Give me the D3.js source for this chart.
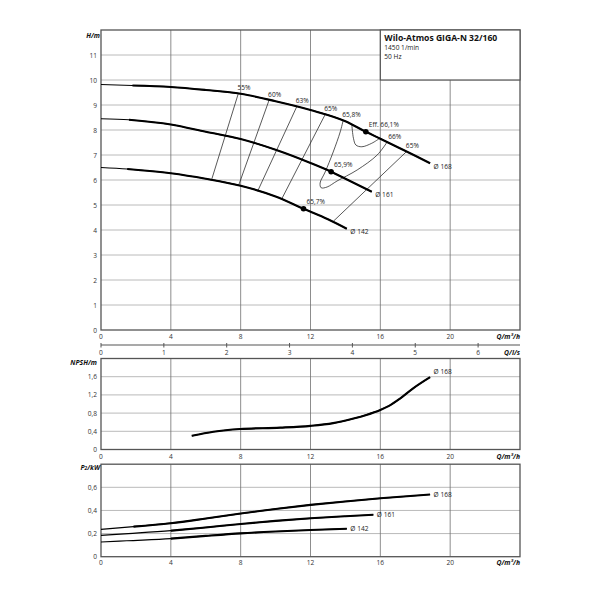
<!DOCTYPE html>
<html>
<head>
<meta charset="utf-8">
<script src="https://cdn.jsdelivr.net/npm/d3@7"></script>
<style>
body { margin: 0; background: #fff; }
text { font-family: "Open Sans", sans-serif; }
.tick-label { font-size: 6.6px; fill: #333; }
.axis-title { font-size: 6.8px; font-weight: bold; font-style: italic; fill: #111; }
.note { font-size: 6.6px; fill: #222; }
</style>
</head>
<body>
<script>
// tick values
var qTicks = [0, 4, 8, 12, 16, 20];
var lsTicks = [0, 1, 2, 3, 4, 5, 6];
var hTicks = [0, 1, 2, 3, 4, 5, 6, 7, 8, 9, 10, 11];
var npshTicks = [0, 0.4, 0.8, 1.2, 1.6];
var p2Ticks = [0, 0.2, 0.4, 0.6];

// impeller diameters
var diameters = ["Ø 168", "Ø 161", "Ø 142"];
var solidFrom = [1.8, 1.6, 1.5];

// H(Q) curves, Q in m3/h, H in m
var h168 = [[0, 9.82], [1.8, 9.78], [4, 9.72], [6, 9.6], [8, 9.45], [10, 9.15], [12, 8.8], [14, 8.35], [15.17, 7.93], [16, 7.65], [17, 7.31], [18, 6.97], [18.85, 6.67]];
var h161 = [[0, 8.45], [1.6, 8.41], [4, 8.22], [6, 7.93], [8, 7.64], [10, 7.21], [12, 6.68], [13.18, 6.33], [14, 6.05], [15.51, 5.53]];
var h142 = [[0, 6.5], [1.5, 6.44], [4, 6.27], [6, 6.05], [8, 5.77], [10, 5.34], [11.6, 4.85], [13, 4.43], [14.08, 4.05]];

// best efficiency points
var bep = [[15.17, 7.93], [13.18, 6.33], [11.6, 4.85]];
var bepLabels = ["Eff. 66,1%", "65,9%", "65,7%"];

// iso-efficiency lines
var eff55 = [[6.34, 6.02], [7.87, 9.47]];
var eff60 = [[7.87, 5.76], [9.63, 9.2]];
var eff63 = [[8.97, 5.55], [11.21, 8.93]];
var eff65a = [[10.35, 5.24], [12.84, 8.62]];
var eff658 = [[16.39, 7.52], [15.82, 7.0], [14.67, 6.4], [13.52, 5.96], [12.95, 5.72], [12.61, 5.69], [12.55, 5.88], [12.84, 6.32], [13.3, 7.12], [13.7, 7.92], [13.87, 8.38]];
var eff66 = [[15.95, 7.66], [15.51, 7.47], [14.94, 7.33], [14.6, 7.4], [14.46, 7.67], [14.37, 8.2]];
var eff65b = [[13.31, 4.35], [17.52, 7.15]];
var effLines = [eff55, eff60, eff63, eff65a, eff658, eff66, eff65b];
var effLabels = ["55%", "60%", "63%", "65%", "65,8%", "", "65%"];
var effRightLabel = ["", "", "", "", "66%", "", ""];

// NPSH for 168
var npsh168 = [[5.2, 0.3], [6.44, 0.39], [7.97, 0.45], [10.26, 0.48], [12, 0.52], [13.3, 0.58], [14.46, 0.68], [15.2, 0.76], [16, 0.87], [16.5, 0.96], [17.13, 1.12], [17.9, 1.35], [18.85, 1.59]];

// P2 curves
var p168 = [[0, 0.237], [1.86, 0.26], [4, 0.29], [6, 0.33], [8, 0.373], [10, 0.413], [12, 0.448], [14, 0.478], [16, 0.505], [18.85, 0.538]];
var p161 = [[0, 0.185], [1.57, 0.2], [4, 0.225], [6, 0.253], [8, 0.283], [10, 0.31], [12, 0.332], [14, 0.35], [15.6, 0.363]];
var p142 = [[0, 0.127], [1.47, 0.138], [4, 0.156], [6, 0.18], [8, 0.202], [10, 0.218], [12, 0.231], [14.08, 0.242]];

var svg = d3.select("body").append("svg")
	.attr("width", 600)
	.attr("height", 600);

var x = d3.scaleLinear().domain([0, 24]).range([101, 520]);
var xls = d3.scaleLinear().domain([0, 24 / 3.6]).range([101, 520]);
var yH = d3.scaleLinear().domain([0, 12]).range([330, 30]);
var yN = d3.scaleLinear().domain([0, 2]).range([449.5, 358.5]);
var yP = d3.scaleLinear().domain([0, 0.8]).range([556.7, 464.2]);

function comma(d) { return String(d).replace(".", ","); }

// grid, frame and tick labels of one panel
function panel(y, yTicks, fmt, labelGap) {
	var g = svg.append("g");
	var y0 = y.range()[0], y1 = y.range()[1];
	g.selectAll("line.h").data(yTicks.filter(function(d) { return d > 0; })).enter()
		.append("line")
		.attr("x1", 101).attr("x2", 520)
		.attr("y1", function(d) { return y(d); })
		.attr("y2", function(d) { return y(d); })
		.attr("stroke", "#a8a8a8").attr("stroke-width", 0.8);
	g.selectAll("line.v").data(qTicks.filter(function(d) { return d > 0; })).enter()
		.append("line")
		.attr("x1", function(d) { return x(d); })
		.attr("x2", function(d) { return x(d); })
		.attr("y1", y0).attr("y2", y1)
		.attr("stroke", "#707070").attr("stroke-width", 0.8);
	g.append("rect")
		.attr("x", 101).attr("y", y1)
		.attr("width", 419).attr("height", y0 - y1)
		.attr("fill", "none").attr("stroke", "#555").attr("stroke-width", 1.3);
	g.selectAll("text.yl").data(yTicks).enter()
		.append("text")
		.attr("class", "tick-label")
		.attr("x", 97).attr("y", function(d) { return y(d); })
		.attr("text-anchor", "end").attr("dominant-baseline", "central")
		.text(fmt);
	g.selectAll("text.xl").data(qTicks).enter()
		.append("text")
		.attr("class", "tick-label")
		.attr("x", function(d) { return x(d); })
		.attr("y", y0 + labelGap)
		.attr("text-anchor", "middle").attr("dominant-baseline", "central")
		.text(function(d) { return d; });
	g.append("text")
		.attr("class", "axis-title")
		.attr("x", 520).attr("y", y0 + labelGap)
		.attr("text-anchor", "end").attr("dominant-baseline", "central")
		.text("Q/m³/h");
	return g;
}

panel(yH, hTicks, function(d) { return d; }, 6.8);
panel(yN, npshTicks, comma, 7.2);
panel(yP, p2Ticks, comma, 5.5);

// title box
svg.append("rect")
	.attr("x", x(16)).attr("y", yH(12))
	.attr("width", x(24) - x(16)).attr("height", yH(10) - yH(12))
	.attr("fill", "#fff").attr("stroke", "#555").attr("stroke-width", 1.2);
svg.append("text").attr("x", x(16) + 4).attr("y", 40.5)
	.style("font-size", "8.6px").style("font-weight", "bold").attr("fill", "#111")
	.text("Wilo-Atmos GIGA-N 32/160");
svg.append("text").attr("class", "note").attr("x", x(16) + 4).attr("y", 50)
	.text("1450 1/min");
svg.append("text").attr("class", "note").attr("x", x(16) + 4).attr("y", 59)
	.text("50 Hz");

// axis titles
svg.append("text").attr("class", "axis-title").attr("x", 100).attr("y", 35)
	.attr("text-anchor", "end").attr("dominant-baseline", "central").text("H/m");
svg.append("text").attr("class", "axis-title").attr("x", 97).attr("y", 362.5)
	.attr("text-anchor", "end").attr("dominant-baseline", "central").text("NPSH/m");
var pt = svg.append("text").attr("class", "axis-title").attr("x", 100).attr("y", 466.5)
	.attr("text-anchor", "end").attr("dominant-baseline", "central");
pt.append("tspan").text("P");
pt.append("tspan").attr("font-size", "4.8px").attr("dy", 1.5).text("2");
pt.append("tspan").attr("dy", -1.5).text("/kW");

// l/s axis
var ls = svg.append("g");
ls.append("line").attr("x1", 101).attr("x2", 520).attr("y1", 345).attr("y2", 345)
	.attr("stroke", "#555").attr("stroke-width", 1.1);
ls.selectAll("line.t").data(lsTicks).enter().append("line")
	.attr("x1", function(d) { return xls(d); }).attr("x2", function(d) { return xls(d); })
	.attr("y1", 343).attr("y2", 347.5)
	.attr("stroke", "#555").attr("stroke-width", 1);
ls.selectAll("text").data(lsTicks).enter().append("text")
	.attr("class", "tick-label")
	.attr("x", function(d) { return xls(d); }).attr("y", 352)
	.attr("text-anchor", "middle").attr("dominant-baseline", "central")
	.text(function(d) { return d; });
ls.append("text").attr("class", "axis-title").attr("x", 520).attr("y", 352)
	.attr("text-anchor", "end").attr("dominant-baseline", "central").text("Q/l/s");

// curves
function drawCurve(data, y, from) {
	var line = d3.line()
		.x(function(d) { return x(d[0]); })
		.y(function(d) { return y(d[1]); })
		.curve(d3.curveMonotoneX);
	svg.append("path").attr("d", line(data))
		.attr("fill", "none").attr("stroke", "#000").attr("stroke-width", 1.2);
	svg.append("path").attr("d", line(data.filter(function(d) { return d[0] >= from; })))
		.attr("fill", "none").attr("stroke", "#000").attr("stroke-width", 2.1)
		.attr("stroke-linecap", "butt");
}

function endLabel(data, y, txt, dy) {
	var e = data[data.length - 1];
	svg.append("text").attr("class", "note")
		.attr("x", x(e[0]) + 3.5).attr("y", y(e[1]) + dy)
		.attr("dominant-baseline", "central")
		.text(txt);
}

// iso-efficiency lines first
var effLine = d3.line()
	.x(function(d) { return x(d[0]); })
	.y(function(d) { return yH(d[1]); })
	.curve(d3.curveCatmullRom);
effLines.forEach(function(pts, i) {
	svg.append("path").attr("d", effLine(pts))
		.attr("fill", "none").attr("stroke", "#222").attr("stroke-width", 0.75);
	var top = pts[pts.length - 1];
	if (effLabels[i]) {
		svg.append("text").attr("class", "note")
			.attr("x", x(top[0]) - 1).attr("y", yH(top[1]) - 3.5)
			.text(effLabels[i]);
	}
	if (effRightLabel[i]) {
		svg.append("text").attr("class", "note")
			.attr("x", x(pts[0][0]) + 1).attr("y", yH(pts[0][1]) - 3.5)
			.text(effRightLabel[i]);
	}
});

[h168, h161, h142].forEach(function(c, i) {
	drawCurve(c, yH, solidFrom[i]);
	endLabel(c, yH, diameters[i], 3);
});

bep.forEach(function(d, i) {
	svg.append("circle").attr("cx", x(d[0])).attr("cy", yH(d[1])).attr("r", 2.8).attr("fill", "#000");
	svg.append("text").attr("class", "note")
		.attr("x", x(d[0]) + 3).attr("y", yH(d[1]) - 5)
		.text(bepLabels[i]);
});

drawCurve(npsh168, yN, 0);
endLabel(npsh168, yN, diameters[0], -5.5);

[p168, p161, p142].forEach(function(c, i) {
	drawCurve(c, yP, solidFrom[i]);
	endLabel(c, yP, diameters[i], 0);
});
</script>
</body>
</html>
